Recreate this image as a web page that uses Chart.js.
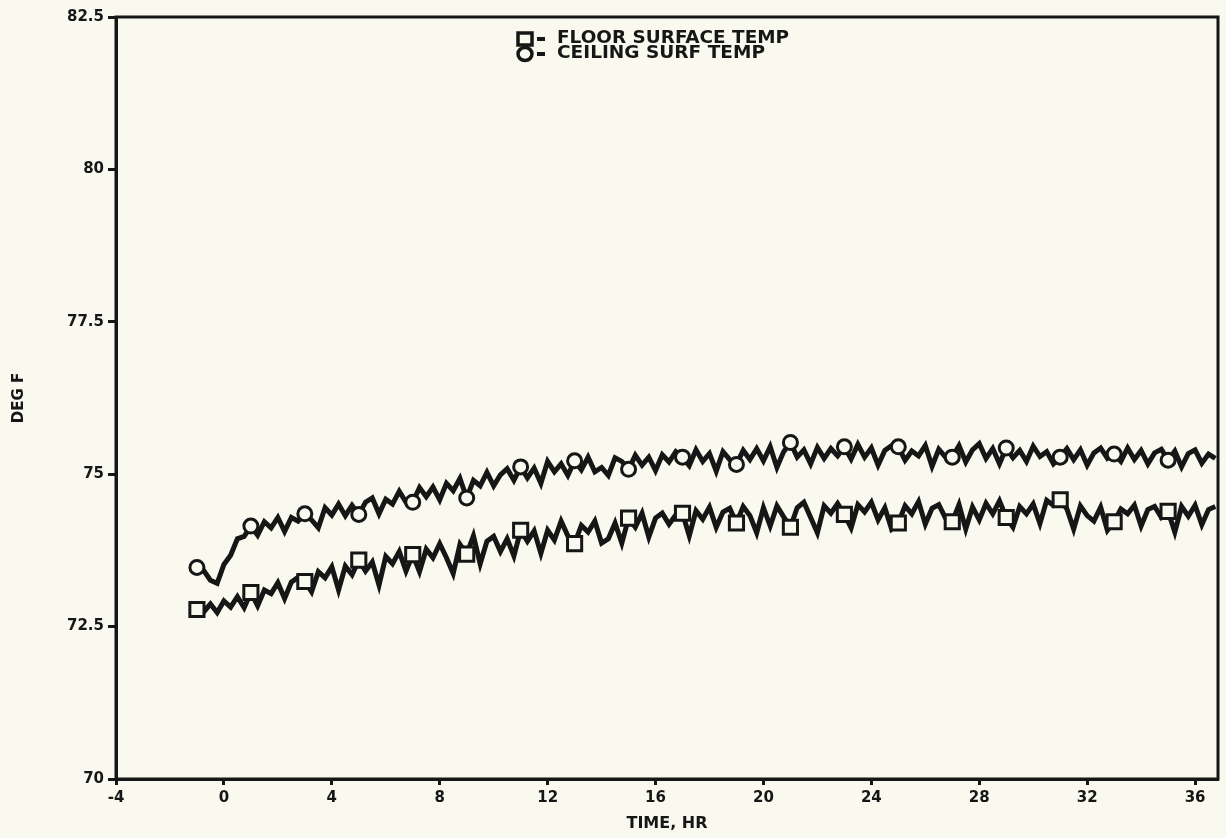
<!DOCTYPE html>
<html>
<head>
<meta charset="utf-8">
<script src="https://cdn.jsdelivr.net/npm/chart.js@4.4.1/dist/chart.umd.min.js"></script>
<style>
  html, body { margin: 0; padding: 0; background: #f9f9ef; }
  #wrap { width: 1226px; height: 838px; }
</style>
</head>
<body>
<div id="wrap"><canvas id="chart" width="1226" height="838"></canvas></div>
<script>
// --- data (DEG F, one sample every 0.25 hr from -1 hr) ---
const timeStart = -1;
const timeStep = 0.25;

const floorTemp = [
  72.78, 72.74, 72.87, 72.73, 72.92, 72.82, 72.99, 72.81,
  73.06, 72.84, 73.10, 73.04, 73.22, 72.96, 73.23, 73.31,
  73.24, 73.07, 73.40, 73.30, 73.48, 73.10, 73.49, 73.35,
  73.59, 73.41, 73.56, 73.18, 73.65, 73.53, 73.73, 73.41,
  73.68, 73.40, 73.77, 73.63, 73.86, 73.63, 73.37, 73.85,
  73.69, 73.99, 73.53, 73.90, 73.98, 73.73, 73.94, 73.66,
  74.08, 73.90, 74.07, 73.70, 74.08, 73.92, 74.23, 73.99,
  73.86, 74.16, 74.05, 74.23, 73.87, 73.94, 74.20, 73.87,
  74.28, 74.13, 74.36, 73.97, 74.28, 74.36, 74.18, 74.33,
  74.36, 73.99, 74.40, 74.26, 74.46, 74.13, 74.38, 74.44,
  74.20, 74.47, 74.32, 74.04, 74.45, 74.15, 74.48, 74.30,
  74.13, 74.45, 74.54, 74.29, 74.04, 74.48, 74.36, 74.52,
  74.34, 74.12, 74.50, 74.38, 74.54, 74.25, 74.45, 74.10,
  74.20, 74.48, 74.35, 74.55, 74.18, 74.44, 74.50, 74.28,
  74.22, 74.50, 74.10, 74.46, 74.25, 74.52, 74.35, 74.56,
  74.29, 74.13, 74.47, 74.35, 74.51, 74.19, 74.57, 74.49,
  74.58, 74.43, 74.10, 74.48, 74.32, 74.23, 74.46, 74.08,
  74.22, 74.43, 74.35, 74.49, 74.15, 74.42, 74.47, 74.29,
  74.39, 74.05, 74.47, 74.31, 74.49, 74.17, 74.42, 74.47
];

const ceilingTemp = [
  73.47, 73.42, 73.26, 73.21, 73.52, 73.67, 73.94, 73.98,
  74.15, 74.00, 74.22, 74.12, 74.29, 74.06, 74.29, 74.23,
  74.35, 74.25, 74.12, 74.45, 74.33, 74.51, 74.32, 74.49,
  74.34, 74.54, 74.61, 74.35, 74.59, 74.51, 74.72, 74.54,
  74.54, 74.78, 74.63, 74.79, 74.58, 74.85, 74.73, 74.93,
  74.61, 74.90, 74.81, 75.03, 74.81, 74.99, 75.09, 74.90,
  75.12, 74.94, 75.10, 74.85, 75.21, 75.04, 75.17, 74.98,
  75.22, 75.07, 75.28, 75.04, 75.11, 74.98, 75.27, 75.21,
  75.08, 75.31, 75.15, 75.28, 75.06, 75.32, 75.20, 75.37,
  75.28, 75.14, 75.40, 75.21, 75.34, 75.05, 75.37, 75.24,
  75.16, 75.39, 75.24, 75.42, 75.22, 75.45, 75.11, 75.37,
  75.52, 75.28, 75.40, 75.17, 75.44, 75.26, 75.42, 75.30,
  75.45, 75.25, 75.49, 75.28, 75.43, 75.15, 75.39, 75.47,
  75.45, 75.23, 75.38, 75.30, 75.47, 75.13, 75.41, 75.28,
  75.28, 75.47, 75.20, 75.40, 75.50, 75.26, 75.42, 75.17,
  75.43, 75.27, 75.39, 75.21, 75.46, 75.29, 75.37, 75.17,
  75.28, 75.42, 75.24, 75.40, 75.15, 75.35, 75.43, 75.26,
  75.33, 75.21, 75.43, 75.24, 75.39, 75.17, 75.35, 75.41,
  75.23, 75.38, 75.12, 75.34, 75.40, 75.18, 75.33, 75.26
];

const seriesNames = ['FLOOR SURFACE TEMP', 'CEILING SURF TEMP'];
const markEvery = 8; // a symbol every 2 hr

const xTicks = [-4, 0, 4, 8, 12, 16, 20, 24, 28, 32, 36];
const xTickLabels = ['-4', '0', '4', '8', '12', '16', '20', '24', '28', '32', '36'];
const yTicks = [70, 72.5, 75, 77.5, 80, 82.5];
const yTickLabels = ['70', '72.5', '75', '77.5', '80', '82.5'];

const INK = '#161616';
const PAPER = '#f9f9ef';

const toPoints = vals => vals.map((v, i) => ({ x: timeStart + i * timeStep, y: v }));

// paper colour + closed frame round the plot
const paperFrame = {
  id: 'paperFrame',
  beforeDraw(chart) {
    const ctx = chart.ctx;
    ctx.save();
    ctx.fillStyle = PAPER;
    ctx.fillRect(0, 0, chart.width, chart.height);
    ctx.restore();
  },
  afterDatasetsDraw(chart) {
    const { ctx, chartArea: a } = chart;
    ctx.save();
    ctx.strokeStyle = INK;
    ctx.lineWidth = 3;
    ctx.strokeRect(a.left, a.top, a.right - a.left, a.bottom - a.top);
    ctx.restore();
  }
};

// the "□= ..." / "○= ..." key inside the plot
const symbolKey = {
  id: 'symbolKey',
  afterDraw(chart) {
    const ctx = chart.ctx;
    ctx.save();
    ctx.strokeStyle = INK;
    ctx.fillStyle = INK;
    ctx.lineWidth = 3.5;
    ctx.strokeRect(518, 33, 14, 12);
    ctx.beginPath();
    ctx.ellipse(525, 54, 7, 6.5, 0, 0, Math.PI * 2);
    ctx.stroke();
    ctx.fillRect(537, 37, 8, 4);
    ctx.fillRect(537, 52, 8, 4);
    ctx.font = 'bold 17px "DejaVu Sans"';
    ctx.textBaseline = 'middle';
    // the typewriter-style key is set wide: stretch each line to its measured span
    const widths = [232, 208];
    seriesNames.forEach((name, i) => {
      const w = ctx.measureText(name).width;
      ctx.save();
      ctx.translate(557, i === 0 ? 39 : 54);
      ctx.scale(widths[i] / w, 1);
      ctx.fillText(name, 0, 0);
      ctx.restore();
    });
    ctx.restore();
  }
};

const ctx = document.getElementById('chart').getContext('2d');
new Chart(ctx, {
  type: 'line',
  data: {
    datasets: [
      {
        label: seriesNames[0],
        data: toPoints(floorTemp),
        borderColor: INK,
        borderWidth: 5,
        tension: 0,
        pointStyle: 'rect',
        pointRadius: c => (c.dataIndex % markEvery === 0 ? 10 : 0),
        pointBackgroundColor: PAPER,
        pointBorderColor: INK,
        pointBorderWidth: 3
      },
      {
        label: seriesNames[1],
        data: toPoints(ceilingTemp),
        borderColor: INK,
        borderWidth: 5,
        tension: 0,
        pointStyle: 'circle',
        pointRadius: c => (c.dataIndex % markEvery === 0 ? 7 : 0),
        pointBackgroundColor: PAPER,
        pointBorderColor: INK,
        pointBorderWidth: 3
      }
    ]
  },
  options: {
    responsive: false,
    animation: false,
    layout: { autoPadding: false, padding: { top: 17, right: 8, left: 0, bottom: 0 } },
    plugins: {
      legend: { display: false },
      tooltip: { enabled: false }
    },
    scales: {
      x: {
        type: 'linear',
        min: -4,
        max: 36.85,
        afterBuildTicks: s => { s.ticks = xTicks.map(v => ({ value: v })); },
        afterFit: s => { s.height = 59; },
        ticks: {
          color: INK,
          padding: 4,
          font: { family: 'DejaVu Sans', size: 15, weight: 'bold' },
          callback: (v, i) => xTickLabels[i]
        },
        grid: {
          drawOnChartArea: false,
          drawTicks: true,
          tickLength: 6,
          tickWidth: 3,
          tickColor: INK
        },
        border: { display: true, color: INK, width: 3 },
        title: {
          display: true,
          text: 'TIME, HR',
          color: INK,
          font: { family: 'DejaVu Sans', size: 16, weight: 'bold' },
          padding: { top: 0, bottom: 5 }
        }
      },
      y: {
        min: 70,
        max: 82.5,
        afterBuildTicks: s => { s.ticks = yTicks.map(v => ({ value: v })); },
        afterFit: s => { s.width = 116; },
        ticks: {
          color: INK,
          padding: 4,
          font: { family: 'DejaVu Sans', size: 15, weight: 'bold' },
          callback: (v, i) => yTickLabels[i]
        },
        grid: {
          drawOnChartArea: false,
          drawTicks: true,
          tickLength: 8,
          tickWidth: 3,
          tickColor: INK
        },
        border: { display: true, color: INK, width: 3 },
        title: {
          display: true,
          text: 'DEG F',
          color: INK,
          font: { family: 'DejaVu Sans', size: 15, weight: 'bold' },
          padding: { top: 10, bottom: 0 }
        }
      }
    }
  },
  plugins: [paperFrame, symbolKey]
});
</script>
</body>
</html>
